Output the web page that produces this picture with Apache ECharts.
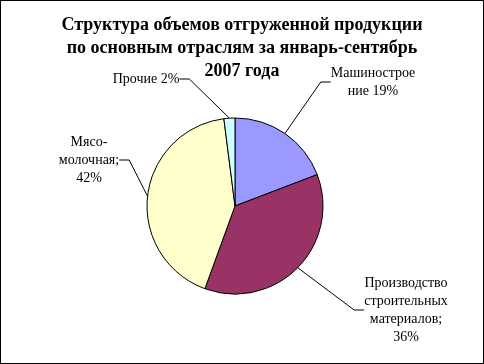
<!DOCTYPE html>
<html><head><meta charset="utf-8">
<script src="https://cdn.jsdelivr.net/npm/echarts@6/dist/echarts.min.js"></script>
<style>html,body{margin:0;padding:0;background:#fff}#c{width:484px;height:364px;box-sizing:border-box;border:1px solid #000}</style>
</head><body><div id="c"></div>
<script>
const titleLines = ['Структура объемов отгруженной продукции','по основным отраслям за январь-сентябрь','2007 года'];
const categories = ['Машиностроение','Производство строительных материалов','Мясо-молочная','Прочие'];
const labelNames = ['Машиностроe\nние','Производство\nстроительных\nматериалов;','Мясо-\nмолочная;','Прочие'];
const labelSeps = [' ','\n','\n',' '];
const values = [19,36,42,2];
const colors = ['#9999FF','#993366','#FFFFCC','#CCFFFF'];
const labelPos = [[372,81,'center'],[405,309,'center'],[88,159,'center'],[145,78,'center']];

const chart = echarts.init(document.getElementById('c'));
chart.setOption({
  animation:false,
  title:{text:titleLines.join('\n'),left:'center',top:8,
    textStyle:{fontFamily:'Liberation Serif',fontWeight:'bold',fontSize:18,lineHeight:23,color:'#000'}},
  series:[{
    type:'pie',center:[234,205],radius:88,startAngle:90,clockwise:true,
    itemStyle:{borderColor:'#000',borderWidth:1},
    data:categories.map((c,i)=>({name:c,value:values[i],itemStyle:{color:colors[i]}})),
    label:{show:true,position:'outside',color:'#000',fontFamily:'Liberation Serif',fontSize:14,lineHeight:18,align:'center',
      formatter:p=>labelNames[p.dataIndex]+labelSeps[p.dataIndex]+values[p.dataIndex]+'%'},
    labelLine:{show:true,length:15,length2:10,lineStyle:{color:'#000',width:1}},
    labelLayout:p=>({x:labelPos[p.dataIndex][0],y:labelPos[p.dataIndex][1],align:labelPos[p.dataIndex][2],verticalAlign:'middle'})
  }]
});
</script></body></html>
